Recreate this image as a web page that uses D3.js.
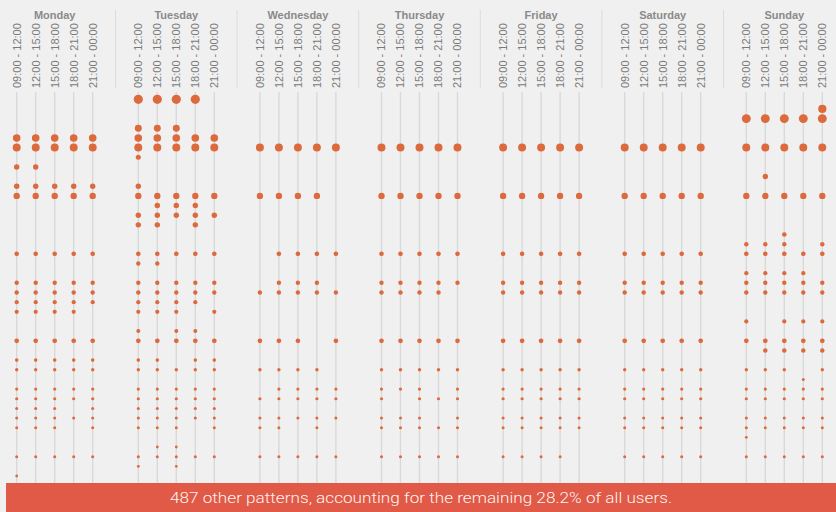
<!DOCTYPE html>
<html>
<head>
<meta charset="utf-8">
<script src="https://cdn.jsdelivr.net/npm/d3@7"></script>
<style>
  html, body { margin: 0; padding: 0; background: #f0f0f0; }
  svg { display: block; }
</style>
</head>
<body>
<svg id="chart" width="836" height="512"></svg>
<script>
// ---- data ----
const days = ["Monday", "Tuesday", "Wednesday", "Thursday", "Friday", "Saturday", "Sunday"];
const slots = ["09:00 - 12:00", "12:00 - 15:00", "15:00 - 18:00", "18:00 - 21:00", "21:00 - 00:00"];

// share of users (%) for each of the 40 most common weekly patterns
const patternShare = [
  4.0, 3.2, 3.8, 2.3, 2.7, 3.0, 1.2, 1.4, 1.4, 1.4,
  1.9, 1.4, 1.4, 1.4, 1.0, 0.92, 1.0, 0.92, 0.87, 0.92,
  0.92, 0.84, 0.84, 0.84, 0.76, 1.05, 0.96, 0.61, 0.55, 0.43,
  0.48, 0.48, 0.43, 0.43, 0.43, 0.37, 0.37, 0.43, 0.37, 0.37
];

// active slots per pattern: one 5-digit group per day (Mon..Sun)
const patternSlots = [
  "00000 11110 00000 00000 00000 00000 00000",
  "00000 00000 00000 00000 00000 00000 00001",
  "00000 00000 00000 00000 00000 00000 11111",
  "00000 11100 00000 00000 00000 00000 00000",
  "11111 11111 00000 00000 00000 00000 00000",
  "11111 11111 11111 11111 11111 11111 11111",
  "00000 10000 00000 00000 00000 00000 00000",
  "11000 00000 00000 00000 00000 00000 00000",
  "00000 00000 00000 00000 00000 00000 01000",
  "11111 10000 00000 00000 00000 00000 00000",
  "11111 11111 11110 11111 11111 11111 11111",
  "00000 01110 00000 00000 00000 00000 00000",
  "00000 11111 00000 00000 00000 00000 00000",
  "00000 11010 00000 00000 00000 00000 00000",
  "00000 00000 00000 00000 00000 00000 00100",
  "00000 00000 00000 00000 00000 00000 11101",
  "11111 11111 01111 11111 11111 11111 11111",
  "00000 11000 00000 00000 00000 00000 00000",
  "00000 00000 00000 00000 00000 00000 11110",
  "11111 11111 01110 11111 11111 11111 11111",
  "11111 11111 11111 11110 11111 11111 11111",
  "11111 11110 00000 00000 00000 00000 00000",
  "11110 11101 00000 00000 00000 00000 00000",
  "00000 00000 00000 00000 00000 00000 10111",
  "00000 10110 00000 00000 00000 00000 00000",
  "11111 11111 11101 11111 11111 11111 11111",
  "00000 00000 00000 00000 00000 00000 01111",
  "11111 11011 00000 00000 00000 00000 00000",
  "11111 11111 11110 11111 11111 11111 11101",
  "00000 00000 00000 00000 00000 00000 00010",
  "11111 11111 01111 11101 11111 11111 11111",
  "11111 11111 11111 10111 11111 11111 11111",
  "11101 11111 00000 00000 00000 00000 00000",
  "11111 11111 11111 11101 11111 11111 11111",
  "11101 11101 11010 11111 11111 11111 11111",
  "00000 00000 00000 00000 00000 00000 10000",
  "00000 01100 00000 00000 00000 00000 00000",
  "11111 11111 11111 11111 11110 11111 11111",
  "00000 10100 00000 00000 00000 00000 00000",
  "10000 00000 00000 00000 00000 00000 00000"
];

const otherPatterns = 487;
const otherShare = 28.2;

// ---- layout ----
const W = 836, H = 512;
const svg = d3.select("#chart");

const dayX = d3.scalePoint().domain(days).range([54.7, 784.3]);
const slotX = d3.scalePoint().domain(slots).range([-38, 38]);
const rowY = d3.scalePoint().domain(d3.range(patternSlots.length)).range([99.3, 476]);
const r = d3.scaleSqrt().domain([0, 4]).range([0, 4.6]);

const step = dayX.step();
const lineTop = 92, lineBottom = 483;

// day separators
svg.append("g").selectAll("line")
  .data(days.slice(1))
  .join("line")
  .attr("x1", d => dayX(d) - step / 2)
  .attr("x2", d => dayX(d) - step / 2)
  .attr("y1", 10).attr("y2", 88)
  .attr("stroke", "#dcdcdc").attr("stroke-width", 1);

// day labels
svg.append("g").selectAll("text")
  .data(days)
  .join("text")
  .attr("x", d => dayX(d))
  .attr("y", 19)
  .attr("text-anchor", "middle")
  .attr("font-family", "Liberation Sans, Arial, sans-serif")
  .attr("font-weight", "bold")
  .attr("font-size", 11)
  .attr("fill", "#8a8a8a")
  .text(d => d);

// columns (one per day × slot)
const cols = days.flatMap((d, di) => slots.map((s, si) => ({ day: d, slot: s, di, si })));

svg.append("g").selectAll("line")
  .data(cols)
  .join("line")
  .attr("x1", c => dayX(c.day) + slotX(c.slot))
  .attr("x2", c => dayX(c.day) + slotX(c.slot))
  .attr("y1", lineTop).attr("y2", lineBottom)
  .attr("stroke", "#d9d9d9").attr("stroke-width", 1.4);

svg.append("g").selectAll("text")
  .data(cols)
  .join("text")
  .attr("transform", c => `translate(${dayX(c.day) + slotX(c.slot)},88) rotate(-90)`)
  .attr("dy", "0.36em")
  .attr("text-anchor", "start")
  .attr("font-family", "Liberation Sans, Arial, sans-serif")
  .attr("font-size", 11)
  .attr("fill", "#7a7a7a")
  .text(c => c.slot);

// dots
const dots = [];
patternSlots.forEach((p, pi) => {
  const groups = p.split(" ");
  groups.forEach((g, di) => {
    g.split("").forEach((ch, si) => {
      if (ch === "1") dots.push({ pi, day: days[di], slot: slots[si], share: patternShare[pi] });
    });
  });
});

svg.append("g").selectAll("circle")
  .data(dots)
  .join("circle")
  .attr("cx", d => dayX(d.day) + slotX(d.slot))
  .attr("cy", d => rowY(d.pi))
  .attr("r", d => r(d.share))
  .attr("fill", "#dc6a3c");

// bottom banner
svg.append("rect")
  .attr("x", 6).attr("y", 483)
  .attr("width", W - 6).attr("height", H - 483)
  .attr("fill", "#e05a47");

svg.append("text")
  .attr("x", (6 + W) / 2 + 0)
  .attr("y", 503)
  .attr("text-anchor", "middle")
  .attr("font-family", "Roboto, sans-serif")
  .attr("font-weight", 300)
  .attr("font-size", 15)
  .attr("textLength", 502)
  .attr("lengthAdjust", "spacingAndGlyphs")
  .attr("fill", "#fff5f2")
  .text(`${otherPatterns} other patterns, accounting for the remaining ${otherShare}% of all users.`);
</script>
</body>
</html>
